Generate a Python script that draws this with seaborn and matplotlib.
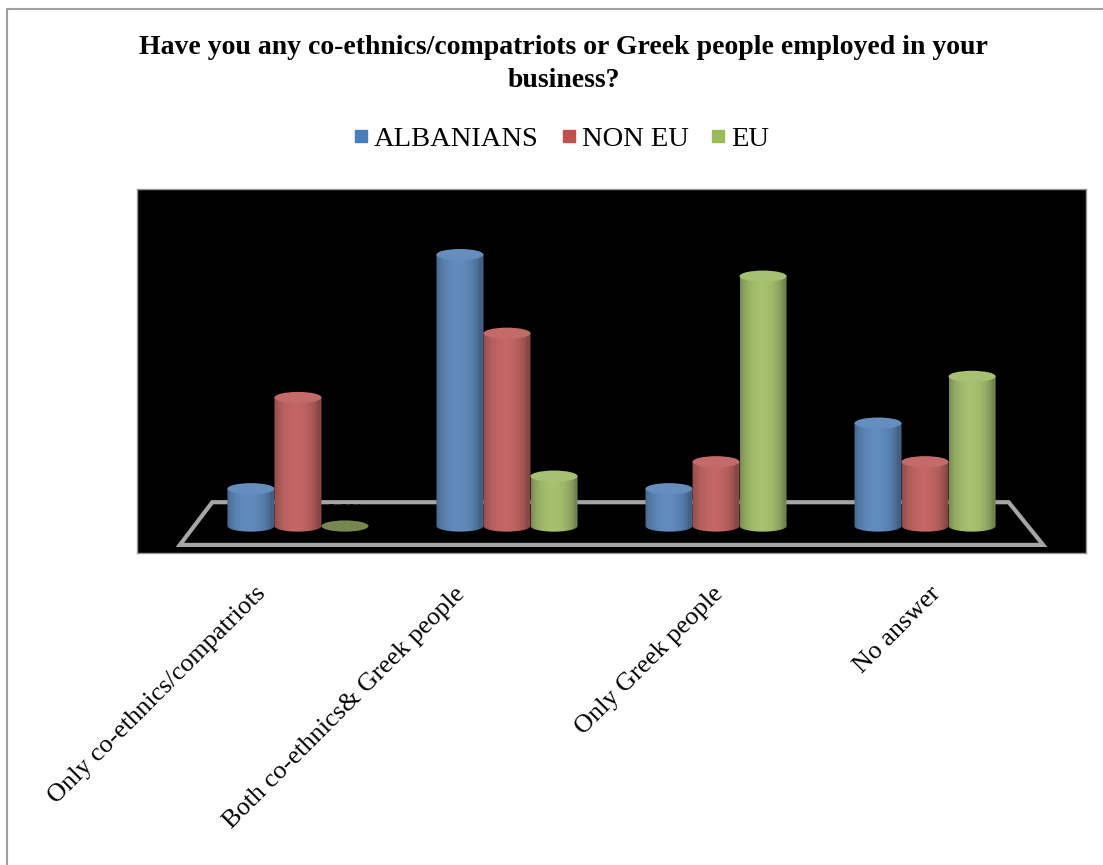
import numpy as np
import pandas as pd
import seaborn as sns
import matplotlib.pyplot as plt
import matplotlib.colors as mcolors
from matplotlib.patches import Ellipse, Polygon
from matplotlib.lines import Line2D
from matplotlib.transforms import ScaledTranslation

# ---- data -------------------------------------------------------------
categories = ["Only co-ethnics/compatriots", "Both co-ethnics& Greek people",
              "Only Greek people", "No answer"]
series_names = ["ALBANIANS", "NON EU", "EU"]
albanians = [8.3, 60.4, 8.3, 22.9]
non_eu = [28.6, 42.9, 14.3, 14.3]
eu = [0.0, 11.1, 55.6, 33.3]
series_colors = ["#4a7ebb", "#c0504d", "#9bbb59"]
title_text = "Have you any co-ethnics/compatriots or Greek people employed in your\nbusiness?"

df = pd.DataFrame({
    "category": categories * 3,
    "group": np.repeat(series_names, len(categories)),
    "value": albanians + non_eu + eu,
})

sns.set_theme(style="white")
plt.rcParams["font.family"] = ["Liberation Serif", "DejaVu Serif"]
plt.rcParams["text.color"] = "black"
plt.rcParams["xtick.color"] = "black"

W, H = 1103, 865
fig = plt.figure(figsize=(W / 100, H / 100), dpi=100)
fig.patch.set_facecolor("white")

# plot area (black panel)
left, right, top, bottom = 137, 1086, 189, 553
ax = fig.add_axes([left / W, 1 - bottom / H, (right - left) / W, (bottom - top) / H])

sns.barplot(data=df, x="category", y="value", hue="group", order=categories,
            hue_order=series_names, palette=series_colors, width=0.675,
            errorbar=None, legend=False, ax=ax)

ax.set_facecolor("black")
for sp in ax.spines.values():
    sp.set_color("#9a9a9a")
    sp.set_linewidth(1.0)
ax.set_yticks([])
ax.set_xlabel("")
ax.set_ylabel("")

# ---- floor of the 3-D box --------------------------------------------
floor = Polygon([(-0.565, -4.2), (3.565, -4.2), (3.40, 5.3), (-0.41, 5.3)],
                closed=True, fill=False, edgecolor="#a6a6a6", lw=3, zorder=1)
ax.add_patch(floor)

# ---- cylinders built from the seaborn bars ----------------------------
eh = 2.5  # ellipse height in data units
t = np.linspace(0, 1, 200)
shade = 0.76 + 0.34 * np.sin(np.pi * np.clip(t * 1.1, 0, 1)) ** 0.6

z = 3
for patch in list(ax.patches):
    if patch is floor:
        continue
    x, w, h = patch.get_x(), patch.get_width(), patch.get_height()
    base = np.array(mcolors.to_rgb(patch.get_facecolor()))
    patch.set_visible(False)
    cx = x + w / 2
    if h <= 0:
        disc = base * 0.78
        ax.add_patch(Ellipse((cx, 0), w, eh, facecolor=disc, edgecolor="none", zorder=z))
        z += 1
        continue
    rgb = np.clip(base[None, :] * shade[:, None], 0, 1)
    img = np.concatenate([rgb, np.ones((len(t), 1))], axis=1)[None, :, :]
    im = ax.imshow(img, extent=[x, x + w, -eh / 2, h], aspect="auto",
                   interpolation="bilinear", zorder=z)
    th = np.linspace(np.pi, 2 * np.pi, 60)
    arc = np.column_stack([cx + (w / 2) * np.cos(th), (eh / 2) * np.sin(th)])
    outline = np.vstack([[x, h], arc, [x + w, h]])
    clip = Polygon(outline, closed=True, transform=ax.transData)
    im.set_clip_path(clip)
    top_col = np.clip(base * 1.06 + 0.03, 0, 1)
    ax.add_patch(Ellipse((cx, h), w, eh, facecolor=top_col, edgecolor="none", zorder=z + 0.5))
    z += 1

# value labels (black on the black panel)
for i, vals in enumerate([albanians, non_eu, eu]):
    for j, v in enumerate(vals):
        xc = j + (i - 1) * 0.225
        ax.text(xc, v + 3.0, f"{v:.1f}%", color="black", fontsize=13,
                ha="center", va="center", zorder=50)

ax.set_aspect("auto")
ax.set_xlim(-0.77, 3.77)
ax.set_ylim(-6.0, 75.0)

# ---- category labels ---------------------------------------------------
ax.set_xticks(range(len(categories)))
ax.set_xticklabels(categories, rotation=45, ha="right", va="center",
                   rotation_mode="anchor", fontsize=18.8, color="black")
ax.tick_params(axis="x", length=0, pad=27)
shifts = [-36, -45, 4, 12]
for lab, dx in zip(ax.get_xticklabels(), shifts):
    lab.set_transform(lab.get_transform() + ScaledTranslation(dx / 100, 0, fig.dpi_scale_trans))

# ---- title and legend ---------------------------------------------------
fig.text(0.511, 1 - 35 / H, title_text, ha="center", va="top", fontsize=20,
         fontweight="bold", linespacing=1.42, color="black")

handles = [Line2D([0], [0], marker="s", linestyle="none", markersize=9,
                  markerfacecolor=c, markeredgecolor=c) for c in series_colors]
fig.legend(handles, series_names, loc="center", bbox_to_anchor=(0.508, 1 - 139 / H),
           ncol=3, frameon=False, fontsize=20.5, handletextpad=0.1,
           columnspacing=0.7, handlelength=0.7)

# outer chart border (top and left edges)
bx, by = 7 / W, 1 - 9 / H
fig.add_artist(Line2D([bx, bx, 1.0], [0.0, by, by], transform=fig.transFigure,
                      color="#a0a0a0", lw=1.5))

fig.savefig("out.png", dpi=100, facecolor="white")
